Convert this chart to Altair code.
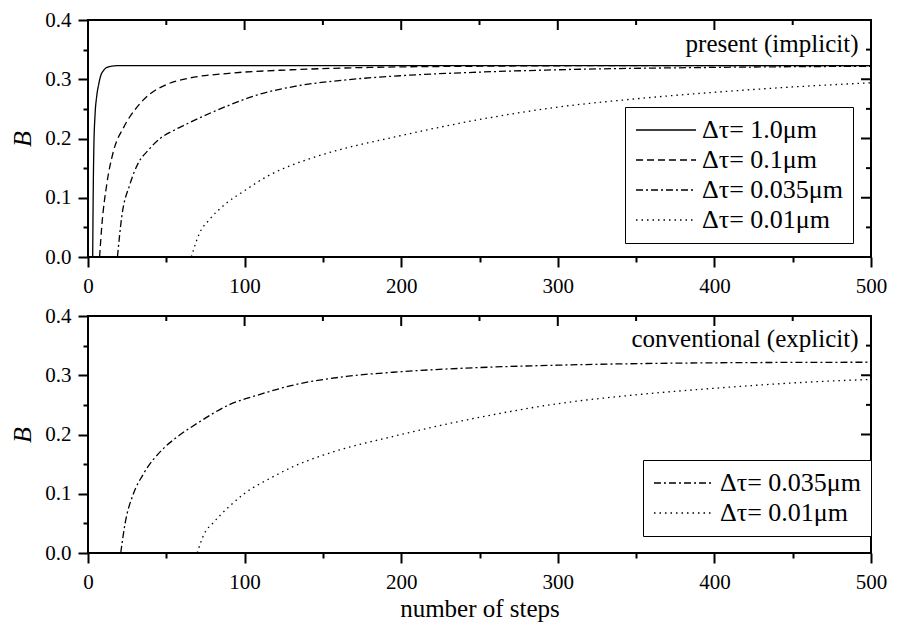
import altair as alt
import pandas as pd

FONT = "Liberation Serif"

# ---------------- data ----------------
# top panel: present (implicit)
top_labels = ["Δτ= 1.0μm", "Δτ= 0.1μm", "Δτ= 0.035μm", "Δτ= 0.01μm"]

top_n_1 = [3, 3.3, 3.7, 4.5, 5.5, 6.8, 8, 10, 12, 15, 20, 500]
top_B_1 = [0, 0.10, 0.18, 0.24, 0.27, 0.291, 0.305, 0.315, 0.320, 0.322, 0.323, 0.323]

top_n_2 = [7.4, 8.9, 12, 16.3, 22.6, 31, 39, 50, 63, 90, 130, 180, 250, 350, 500]
top_B_2 = [0, 0.055, 0.123, 0.179, 0.218, 0.252, 0.274, 0.291, 0.301, 0.310, 0.316, 0.320, 0.322, 0.323, 0.323]

top_n_3 = [18.8, 21.5, 26.8, 32, 38.4, 46, 55, 65, 88, 110, 132, 165, 200, 250, 300, 400, 500]
top_B_3 = [0, 0.067, 0.123, 0.158, 0.180, 0.200, 0.214, 0.227, 0.254, 0.275, 0.288, 0.299, 0.306, 0.312, 0.316, 0.320, 0.322]

top_n_4 = [66, 71, 77.5, 88, 100, 115, 132, 150, 200, 250, 300, 350, 400, 450, 500]
top_B_4 = [0, 0.039, 0.063, 0.090, 0.112, 0.137, 0.157, 0.173, 0.205, 0.232, 0.253, 0.267, 0.278, 0.287, 0.294]

# bottom panel: conventional (explicit)
bot_labels = ["Δτ= 0.035μm", "Δτ= 0.01μm"]

bot_n_3 = [20.9, 23.7, 29, 35.3, 48, 56, 71, 90, 109, 132, 165, 200, 250, 300, 400, 500]
bot_B_3 = [0, 0.05, 0.10, 0.133, 0.176, 0.194, 0.221, 0.250, 0.267, 0.284, 0.298, 0.306, 0.313, 0.317, 0.321, 0.322]

bot_n_4 = [69.7, 74.3, 79.6, 90, 99.7, 117.7, 132, 150, 200, 250, 300, 350, 400, 450, 500]
bot_B_4 = [0, 0.033, 0.05, 0.078, 0.10, 0.128, 0.147, 0.165, 0.200, 0.229, 0.252, 0.267, 0.278, 0.287, 0.293]

top_dashes = [[1, 0], [7, 4], [7, 3, 2, 3], [1.5, 4]]
bot_dashes = [[7, 3, 2, 3], [1.5, 4]]

x_ticks = [0, 50, 100, 150, 200, 250, 300, 350, 400, 450, 500]
x_major = [0, 100, 200, 300, 400, 500]
x_minor = [50, 150, 250, 350, 450]
y_ticks = [0.0, 0.05, 0.1, 0.15, 0.2, 0.25, 0.3, 0.35, 0.4]
y_major = [0.0, 0.1, 0.2, 0.3, 0.4]
y_minor = [0.05, 0.15, 0.25, 0.35]

top_note = "present (implicit)"
bot_note = "conventional (explicit)"
top_note_pos = (492, 0.346)
bot_note_pos = (492, 0.348)

W, H = 783, 237
MAJOR, MINOR = 10, 5


def make_df(ns, bs, labels):
    rows = []
    for n_list, b_list, lab in zip(ns, bs, labels):
        for n, b in zip(n_list, b_list):
            rows.append({"n": n, "B": b, "series": lab})
    return pd.DataFrame(rows)


top_df = make_df([top_n_1, top_n_2, top_n_3, top_n_4],
                 [top_B_1, top_B_2, top_B_3, top_B_4], top_labels)
bot_df = make_df([bot_n_3, bot_n_4], [bot_B_3, bot_B_4], bot_labels)

x_scale = alt.Scale(domain=[0, 500], nice=False, zero=False)
y_scale = alt.Scale(domain=[0, 0.4], nice=False)

x_is_major = "abs(datum.value % 100) < 0.001"
y_is_major = "abs(datum.value * 10 - round(datum.value * 10)) < 0.001"


def mirror_ticks():
    """Inward ticks on the top and right frame edges, placed through the scales."""
    layers = []
    for vals, size in ((x_major, MAJOR), (x_minor, MINOR)):
        layers.append(
            alt.Chart(pd.DataFrame({"v": vals})).mark_rule(color="black", strokeWidth=2).encode(
                x=alt.X("v:Q", scale=x_scale, axis=None),
                y=alt.value(0), y2=alt.value(size)))
    for vals, size in ((y_major, MAJOR), (y_minor, MINOR)):
        layers.append(
            alt.Chart(pd.DataFrame({"v": vals})).mark_rule(color="black", strokeWidth=2).encode(
                y=alt.Y("v:Q", scale=y_scale, axis=None),
                x=alt.value(W), x2=alt.value(W - size)))
    return layers


def panel(df, labels, dashes, lx, ly, note, note_pos, x_title):
    base = alt.Chart(df)
    lines = base.mark_line(color="black", strokeWidth=1.3,
                           interpolate="monotone", clip=True).encode(
        x=alt.X("n:Q", scale=x_scale,
                axis=alt.Axis(values=x_ticks, orient="bottom",
                              tickSize={"condition": {"test": x_is_major, "value": MAJOR}, "value": MINOR},
                              labelExpr=f"{x_is_major} ? datum.label : ''",
                              labelFont=FONT, labelFontSize=21, labelColor="black",
                              labelFlush=False, labelOverlap=False, labelPadding=8,
                              domain=False, grid=False,
                              title=x_title, titleFont=FONT, titleFontSize=25,
                              titleFontWeight="normal", titlePadding=4)),
        y=alt.Y("B:Q", scale=y_scale,
                axis=alt.Axis(values=y_ticks, orient="left",
                              tickSize={"condition": {"test": y_is_major, "value": MAJOR}, "value": MINOR},
                              labelExpr=f"{y_is_major} ? format(datum.value, '.1f') : ''",
                              labelFont=FONT, labelFontSize=21, labelColor="black",
                              labelFlush=False, labelOverlap=False, labelPadding=7,
                              domain=False, grid=False,
                              title="B", titleFont=FONT, titleFontStyle="italic",
                              titleFontSize=26, titleFontWeight="normal",
                              titlePadding=9)),
        strokeDash=alt.StrokeDash(
            "series:N",
            scale=alt.Scale(domain=labels, range=dashes),
            legend=alt.Legend(orient="none", legendX=lx, legendY=ly, title=None,
                              strokeColor="black", fillColor="white", padding=10,
                              symbolType="stroke", symbolSize=3600,
                              symbolStrokeWidth=1.3, symbolStrokeColor="black",
                              clipHeight=26, rowPadding=4, labelOffset=5,
                              labelFont=FONT, labelFontSize=26, labelColor="black",
                              labelLimit=400)),
    )
    note_df = pd.DataFrame({"x": [note_pos[0]], "y": [note_pos[1]], "t": [note]})
    text = alt.Chart(note_df).mark_text(align="right", baseline="alphabetic",
                                        font=FONT, fontSize=25, color="black").encode(
        x=alt.X("x:Q", scale=x_scale, axis=None),
        y=alt.Y("y:Q", scale=y_scale, axis=None),
        text="t:N",
    )
    return alt.layer(lines, *mirror_ticks(), text).resolve_axis(
        x="independent", y="independent").properties(width=W, height=H)


top = panel(top_df, top_labels, top_dashes, 537, 87, top_note, top_note_pos, None)
bot = panel(bot_df, bot_labels, bot_dashes, 555, 144, bot_note, bot_note_pos, "number of steps")

chart = alt.vconcat(top, bot, spacing=7).resolve_scale(
    strokeDash="independent").resolve_legend(strokeDash="independent").properties(
    padding={"left": 0, "top": 0, "right": 0, "bottom": 0},
    background="white",
).configure_view(stroke="black", strokeWidth=2).configure_axis(
    labelFont=FONT, labelFontSize=21, labelColor="black",
    titleFont=FONT, titleFontSize=25, titleColor="black", titleFontWeight="normal",
    tickColor="black", tickWidth=2, grid=False,
)

chart.save("out.html", embed_options={"renderer": "svg", "actions": False})
